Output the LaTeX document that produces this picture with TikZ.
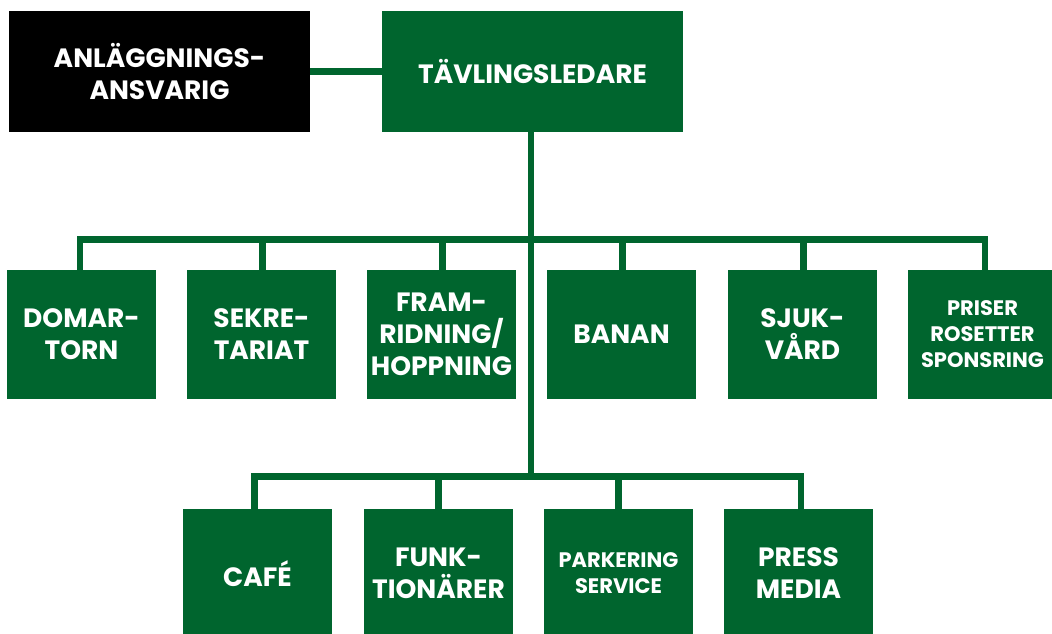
\documentclass[tikz,border=0pt]{standalone}
\usepackage{fontspec}
\setmainfont{Poppins}[BoldFont={* Bold}]
\definecolor{ggreen}{RGB}{0,101,46}
\begin{document}
\begin{tikzpicture}[x=1pt,y=-1pt,
  box/.style={fill=ggreen,text=white,minimum width=149pt,minimum height=129pt,inner sep=0pt,align=center,
    font=\bfseries\fontsize{26.5}{32}\selectfont},
  topbox/.style={box,minimum width=301pt,minimum height=121pt},
  small/.style={font=\bfseries\fontsize{21}{26}\selectfont},
  link/.style={draw=ggreen,line width=6.5pt}]
\useasboundingbox (0,0) rectangle (1052,633);
\node[topbox,fill=black] (ansv) at (159.5,71.5) {ANLÄGGNINGS-\\ANSVARIG};
\node[topbox] (tl) at (532.5,71.5) {TÄVLINGSLEDARE};
\node[box] (domar) at (81.5,334.5) {DOMAR-\\TORN};
\node[box] (sekre) at (261.5,334.5) {SEKRE-\\TARIAT};
\node[box] (fram) at (441.5,334.5) {FRAM-\\RIDNING/\\HOPPNING};
\node[box] (banan) at (621.5,334.5) {BANAN};
\node[box] (sjuk) at (802.5,334.5) {SJUK-\\VÅRD};
\node[box,small] (priser) at (982.5,334.5) {PRISER\\ROSETTER\\SPONSRING};
\node[box] (cafe) at (257.5,573.5) {CAFÉ};
\node[box] (funk) at (438.5,573.5) {FUNK-\\TIONÄRER};
\node[box,small] (park) at (618.5,573.5) {PARKERING\\SERVICE};
\node[box] (press) at (798.5,573.5) {PRESS\\MEDIA};
\coordinate (bus1) at (531,239.5);
\coordinate (bus2) at (531,476.5);
\draw[link] (ansv.east) -- (tl.west);
\draw[link] ([xshift=-1.5pt]tl.south) -- ([xshift=-1.5pt]tl.south |- bus2);
\draw[link,line cap=rect] ([xshift=-1.5pt]domar.north) |- (bus1) -| ([xshift=2.5pt]priser.north);
\foreach \n in {sekre,fram,banan,sjuk}
  \draw[link] ([xshift=1pt]\n.north) -- ([xshift=1pt]\n.north |- bus1);
\draw[link,line cap=rect] ([xshift=-3pt]cafe.north) |- (bus2) -| ([xshift=2.5pt]press.north);
\foreach \n in {funk,park}
  \draw[link] (\n.north) -- (\n.north |- bus2);
\end{tikzpicture}
\end{document}
